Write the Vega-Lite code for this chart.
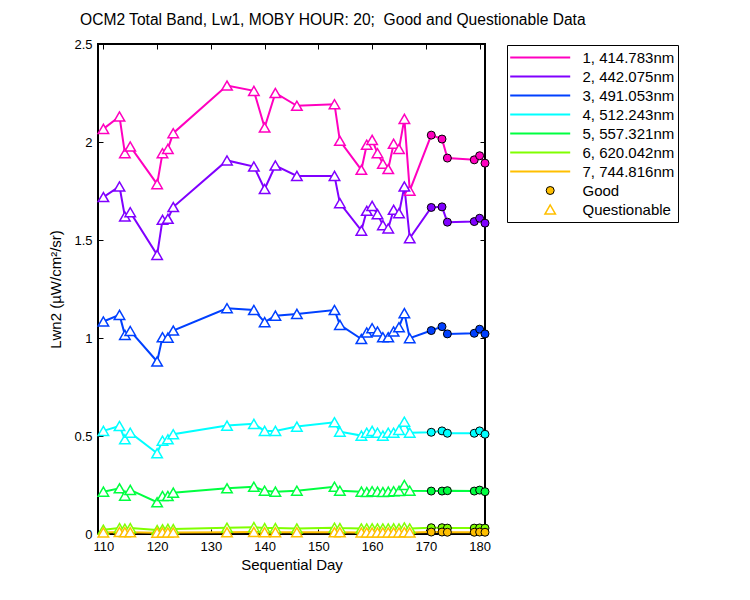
{
  "$schema": "https://vega.github.io/schema/vega-lite/v6.json",
  "width": 387,
  "height": 490,
  "autosize": "none",
  "padding": {"left": 98, "top": 44, "right": 265, "bottom": 66},
  "background": "white",
  "config": {
    "view": {"stroke": "black", "strokeWidth": 2},
    "font": "Liberation Sans",
    "axis": {"labelColor": "black", "titleColor": "black", "tickColor": "black", "tickWidth": 1, "grid": false, "domain": false, "labelFont": "Liberation Sans", "titleFont": "Liberation Sans", "titleFontWeight": "normal"}
  },
  "title": {"text": "OCM2 Total Band, Lw1, MOBY HOUR: 20;\u00a0 Good and Questionable Data", "anchor": "start", "frame": "group", "dx": -18, "offset": 9, "fontSize": 15.6, "fontWeight": "normal", "font": "Liberation Sans", "color": "black"},
  "data": {"values": [
    {"day":110,"band":"1, 414.783nm","lwn":2.067,"q":"Questionable"},
    {"day":113,"band":"1, 414.783nm","lwn":2.13,"q":"Questionable"},
    {"day":114,"band":"1, 414.783nm","lwn":1.943,"q":"Questionable"},
    {"day":115,"band":"1, 414.783nm","lwn":1.977,"q":"Questionable"},
    {"day":120,"band":"1, 414.783nm","lwn":1.785,"q":"Questionable"},
    {"day":121,"band":"1, 414.783nm","lwn":1.943,"q":"Questionable"},
    {"day":122,"band":"1, 414.783nm","lwn":1.965,"q":"Questionable"},
    {"day":123,"band":"1, 414.783nm","lwn":2.045,"q":"Questionable"},
    {"day":133,"band":"1, 414.783nm","lwn":2.288,"q":"Questionable"},
    {"day":138,"band":"1, 414.783nm","lwn":2.261,"q":"Questionable"},
    {"day":140,"band":"1, 414.783nm","lwn":2.074,"q":"Questionable"},
    {"day":142,"band":"1, 414.783nm","lwn":2.25,"q":"Questionable"},
    {"day":146,"band":"1, 414.783nm","lwn":2.185,"q":"Questionable"},
    {"day":153,"band":"1, 414.783nm","lwn":2.193,"q":"Questionable"},
    {"day":154,"band":"1, 414.783nm","lwn":2.006,"q":"Questionable"},
    {"day":158,"band":"1, 414.783nm","lwn":1.858,"q":"Questionable"},
    {"day":159,"band":"1, 414.783nm","lwn":1.986,"q":"Questionable"},
    {"day":160,"band":"1, 414.783nm","lwn":2.011,"q":"Questionable"},
    {"day":161,"band":"1, 414.783nm","lwn":1.943,"q":"Questionable"},
    {"day":162,"band":"1, 414.783nm","lwn":1.889,"q":"Questionable"},
    {"day":163,"band":"1, 414.783nm","lwn":1.862,"q":"Questionable"},
    {"day":164,"band":"1, 414.783nm","lwn":1.991,"q":"Questionable"},
    {"day":165,"band":"1, 414.783nm","lwn":1.965,"q":"Questionable"},
    {"day":166,"band":"1, 414.783nm","lwn":2.118,"q":"Questionable"},
    {"day":167,"band":"1, 414.783nm","lwn":1.752,"q":"Questionable"},
    {"day":171,"band":"1, 414.783nm","lwn":2.035,"q":"Good"},
    {"day":173,"band":"1, 414.783nm","lwn":2.015,"q":"Good"},
    {"day":174,"band":"1, 414.783nm","lwn":1.918,"q":"Good"},
    {"day":179,"band":"1, 414.783nm","lwn":1.909,"q":"Good"},
    {"day":180,"band":"1, 414.783nm","lwn":1.93,"q":"Good"},
    {"day":181,"band":"1, 414.783nm","lwn":1.892,"q":"Good"},
    {"day":110,"band":"2, 442.075nm","lwn":1.719,"q":"Questionable"},
    {"day":113,"band":"2, 442.075nm","lwn":1.773,"q":"Questionable"},
    {"day":114,"band":"2, 442.075nm","lwn":1.62,"q":"Questionable"},
    {"day":115,"band":"2, 442.075nm","lwn":1.642,"q":"Questionable"},
    {"day":120,"band":"2, 442.075nm","lwn":1.424,"q":"Questionable"},
    {"day":121,"band":"2, 442.075nm","lwn":1.603,"q":"Questionable"},
    {"day":122,"band":"2, 442.075nm","lwn":1.608,"q":"Questionable"},
    {"day":123,"band":"2, 442.075nm","lwn":1.668,"q":"Questionable"},
    {"day":133,"band":"2, 442.075nm","lwn":1.906,"q":"Questionable"},
    {"day":138,"band":"2, 442.075nm","lwn":1.875,"q":"Questionable"},
    {"day":140,"band":"2, 442.075nm","lwn":1.76,"q":"Questionable"},
    {"day":142,"band":"2, 442.075nm","lwn":1.88,"q":"Questionable"},
    {"day":146,"band":"2, 442.075nm","lwn":1.827,"q":"Questionable"},
    {"day":153,"band":"2, 442.075nm","lwn":1.827,"q":"Questionable"},
    {"day":154,"band":"2, 442.075nm","lwn":1.688,"q":"Questionable"},
    {"day":158,"band":"2, 442.075nm","lwn":1.548,"q":"Questionable"},
    {"day":159,"band":"2, 442.075nm","lwn":1.649,"q":"Questionable"},
    {"day":160,"band":"2, 442.075nm","lwn":1.674,"q":"Questionable"},
    {"day":161,"band":"2, 442.075nm","lwn":1.632,"q":"Questionable"},
    {"day":162,"band":"2, 442.075nm","lwn":1.576,"q":"Questionable"},
    {"day":163,"band":"2, 442.075nm","lwn":1.559,"q":"Questionable"},
    {"day":164,"band":"2, 442.075nm","lwn":1.654,"q":"Questionable"},
    {"day":165,"band":"2, 442.075nm","lwn":1.637,"q":"Questionable"},
    {"day":166,"band":"2, 442.075nm","lwn":1.773,"q":"Questionable"},
    {"day":167,"band":"2, 442.075nm","lwn":1.509,"q":"Questionable"},
    {"day":171,"band":"2, 442.075nm","lwn":1.666,"q":"Good"},
    {"day":173,"band":"2, 442.075nm","lwn":1.669,"q":"Good"},
    {"day":174,"band":"2, 442.075nm","lwn":1.591,"q":"Good"},
    {"day":179,"band":"2, 442.075nm","lwn":1.594,"q":"Good"},
    {"day":180,"band":"2, 442.075nm","lwn":1.611,"q":"Good"},
    {"day":181,"band":"2, 442.075nm","lwn":1.586,"q":"Good"},
    {"day":110,"band":"3, 491.053nm","lwn":1.084,"q":"Questionable"},
    {"day":113,"band":"3, 491.053nm","lwn":1.118,"q":"Questionable"},
    {"day":114,"band":"3, 491.053nm","lwn":1.016,"q":"Questionable"},
    {"day":115,"band":"3, 491.053nm","lwn":1.036,"q":"Questionable"},
    {"day":120,"band":"3, 491.053nm","lwn":0.88,"q":"Questionable"},
    {"day":121,"band":"3, 491.053nm","lwn":1.004,"q":"Questionable"},
    {"day":122,"band":"3, 491.053nm","lwn":1.002,"q":"Questionable"},
    {"day":123,"band":"3, 491.053nm","lwn":1.038,"q":"Questionable"},
    {"day":133,"band":"3, 491.053nm","lwn":1.152,"q":"Questionable"},
    {"day":138,"band":"3, 491.053nm","lwn":1.143,"q":"Questionable"},
    {"day":140,"band":"3, 491.053nm","lwn":1.081,"q":"Questionable"},
    {"day":142,"band":"3, 491.053nm","lwn":1.114,"q":"Questionable"},
    {"day":146,"band":"3, 491.053nm","lwn":1.123,"q":"Questionable"},
    {"day":153,"band":"3, 491.053nm","lwn":1.143,"q":"Questionable"},
    {"day":154,"band":"3, 491.053nm","lwn":1.067,"q":"Questionable"},
    {"day":158,"band":"3, 491.053nm","lwn":0.995,"q":"Questionable"},
    {"day":159,"band":"3, 491.053nm","lwn":1.028,"q":"Questionable"},
    {"day":160,"band":"3, 491.053nm","lwn":1.05,"q":"Questionable"},
    {"day":161,"band":"3, 491.053nm","lwn":1.033,"q":"Questionable"},
    {"day":162,"band":"3, 491.053nm","lwn":1.004,"q":"Questionable"},
    {"day":163,"band":"3, 491.053nm","lwn":1.004,"q":"Questionable"},
    {"day":164,"band":"3, 491.053nm","lwn":1.033,"q":"Questionable"},
    {"day":165,"band":"3, 491.053nm","lwn":1.055,"q":"Questionable"},
    {"day":166,"band":"3, 491.053nm","lwn":1.127,"q":"Questionable"},
    {"day":167,"band":"3, 491.053nm","lwn":0.999,"q":"Questionable"},
    {"day":171,"band":"3, 491.053nm","lwn":1.038,"q":"Good"},
    {"day":173,"band":"3, 491.053nm","lwn":1.058,"q":"Good"},
    {"day":174,"band":"3, 491.053nm","lwn":1.021,"q":"Good"},
    {"day":179,"band":"3, 491.053nm","lwn":1.024,"q":"Good"},
    {"day":180,"band":"3, 491.053nm","lwn":1.045,"q":"Good"},
    {"day":181,"band":"3, 491.053nm","lwn":1.021,"q":"Good"},
    {"day":110,"band":"4, 512.243nm","lwn":0.526,"q":"Questionable"},
    {"day":113,"band":"4, 512.243nm","lwn":0.551,"q":"Questionable"},
    {"day":114,"band":"4, 512.243nm","lwn":0.483,"q":"Questionable"},
    {"day":115,"band":"4, 512.243nm","lwn":0.517,"q":"Questionable"},
    {"day":120,"band":"4, 512.243nm","lwn":0.412,"q":"Questionable"},
    {"day":121,"band":"4, 512.243nm","lwn":0.476,"q":"Questionable"},
    {"day":122,"band":"4, 512.243nm","lwn":0.483,"q":"Questionable"},
    {"day":123,"band":"4, 512.243nm","lwn":0.509,"q":"Questionable"},
    {"day":133,"band":"4, 512.243nm","lwn":0.553,"q":"Questionable"},
    {"day":138,"band":"4, 512.243nm","lwn":0.562,"q":"Questionable"},
    {"day":140,"band":"4, 512.243nm","lwn":0.526,"q":"Questionable"},
    {"day":142,"band":"4, 512.243nm","lwn":0.526,"q":"Questionable"},
    {"day":146,"band":"4, 512.243nm","lwn":0.548,"q":"Questionable"},
    {"day":153,"band":"4, 512.243nm","lwn":0.57,"q":"Questionable"},
    {"day":154,"band":"4, 512.243nm","lwn":0.522,"q":"Questionable"},
    {"day":158,"band":"4, 512.243nm","lwn":0.502,"q":"Questionable"},
    {"day":159,"band":"4, 512.243nm","lwn":0.517,"q":"Questionable"},
    {"day":160,"band":"4, 512.243nm","lwn":0.526,"q":"Questionable"},
    {"day":161,"band":"4, 512.243nm","lwn":0.517,"q":"Questionable"},
    {"day":162,"band":"4, 512.243nm","lwn":0.502,"q":"Questionable"},
    {"day":163,"band":"4, 512.243nm","lwn":0.517,"q":"Questionable"},
    {"day":164,"band":"4, 512.243nm","lwn":0.517,"q":"Questionable"},
    {"day":165,"band":"4, 512.243nm","lwn":0.531,"q":"Questionable"},
    {"day":166,"band":"4, 512.243nm","lwn":0.573,"q":"Questionable"},
    {"day":167,"band":"4, 512.243nm","lwn":0.517,"q":"Questionable"},
    {"day":171,"band":"4, 512.243nm","lwn":0.519,"q":"Good"},
    {"day":173,"band":"4, 512.243nm","lwn":0.526,"q":"Good"},
    {"day":174,"band":"4, 512.243nm","lwn":0.514,"q":"Good"},
    {"day":179,"band":"4, 512.243nm","lwn":0.514,"q":"Good"},
    {"day":180,"band":"4, 512.243nm","lwn":0.526,"q":"Good"},
    {"day":181,"band":"4, 512.243nm","lwn":0.509,"q":"Good"},
    {"day":110,"band":"5, 557.321nm","lwn":0.216,"q":"Questionable"},
    {"day":113,"band":"5, 557.321nm","lwn":0.233,"q":"Questionable"},
    {"day":114,"band":"5, 557.321nm","lwn":0.196,"q":"Questionable"},
    {"day":115,"band":"5, 557.321nm","lwn":0.225,"q":"Questionable"},
    {"day":120,"band":"5, 557.321nm","lwn":0.162,"q":"Questionable"},
    {"day":121,"band":"5, 557.321nm","lwn":0.194,"q":"Questionable"},
    {"day":122,"band":"5, 557.321nm","lwn":0.194,"q":"Questionable"},
    {"day":123,"band":"5, 557.321nm","lwn":0.211,"q":"Questionable"},
    {"day":133,"band":"5, 557.321nm","lwn":0.233,"q":"Questionable"},
    {"day":138,"band":"5, 557.321nm","lwn":0.241,"q":"Questionable"},
    {"day":140,"band":"5, 557.321nm","lwn":0.221,"q":"Questionable"},
    {"day":142,"band":"5, 557.321nm","lwn":0.216,"q":"Questionable"},
    {"day":146,"band":"5, 557.321nm","lwn":0.221,"q":"Questionable"},
    {"day":153,"band":"5, 557.321nm","lwn":0.241,"q":"Questionable"},
    {"day":154,"band":"5, 557.321nm","lwn":0.221,"q":"Questionable"},
    {"day":158,"band":"5, 557.321nm","lwn":0.216,"q":"Questionable"},
    {"day":159,"band":"5, 557.321nm","lwn":0.214,"q":"Questionable"},
    {"day":160,"band":"5, 557.321nm","lwn":0.218,"q":"Questionable"},
    {"day":161,"band":"5, 557.321nm","lwn":0.216,"q":"Questionable"},
    {"day":162,"band":"5, 557.321nm","lwn":0.214,"q":"Questionable"},
    {"day":163,"band":"5, 557.321nm","lwn":0.216,"q":"Questionable"},
    {"day":164,"band":"5, 557.321nm","lwn":0.218,"q":"Questionable"},
    {"day":165,"band":"5, 557.321nm","lwn":0.22,"q":"Questionable"},
    {"day":166,"band":"5, 557.321nm","lwn":0.25,"q":"Questionable"},
    {"day":167,"band":"5, 557.321nm","lwn":0.221,"q":"Questionable"},
    {"day":171,"band":"5, 557.321nm","lwn":0.219,"q":"Good"},
    {"day":173,"band":"5, 557.321nm","lwn":0.219,"q":"Good"},
    {"day":174,"band":"5, 557.321nm","lwn":0.221,"q":"Good"},
    {"day":179,"band":"5, 557.321nm","lwn":0.219,"q":"Good"},
    {"day":180,"band":"5, 557.321nm","lwn":0.224,"q":"Good"},
    {"day":181,"band":"5, 557.321nm","lwn":0.216,"q":"Good"},
    {"day":110,"band":"6, 620.042nm","lwn":0.022,"q":"Questionable"},
    {"day":113,"band":"6, 620.042nm","lwn":0.03,"q":"Questionable"},
    {"day":114,"band":"6, 620.042nm","lwn":0.027,"q":"Questionable"},
    {"day":115,"band":"6, 620.042nm","lwn":0.03,"q":"Questionable"},
    {"day":120,"band":"6, 620.042nm","lwn":0.02,"q":"Questionable"},
    {"day":121,"band":"6, 620.042nm","lwn":0.024,"q":"Questionable"},
    {"day":122,"band":"6, 620.042nm","lwn":0.026,"q":"Questionable"},
    {"day":123,"band":"6, 620.042nm","lwn":0.025,"q":"Questionable"},
    {"day":133,"band":"6, 620.042nm","lwn":0.032,"q":"Questionable"},
    {"day":138,"band":"6, 620.042nm","lwn":0.035,"q":"Questionable"},
    {"day":140,"band":"6, 620.042nm","lwn":0.03,"q":"Questionable"},
    {"day":142,"band":"6, 620.042nm","lwn":0.03,"q":"Questionable"},
    {"day":146,"band":"6, 620.042nm","lwn":0.028,"q":"Questionable"},
    {"day":153,"band":"6, 620.042nm","lwn":0.032,"q":"Questionable"},
    {"day":154,"band":"6, 620.042nm","lwn":0.03,"q":"Questionable"},
    {"day":158,"band":"6, 620.042nm","lwn":0.028,"q":"Questionable"},
    {"day":159,"band":"6, 620.042nm","lwn":0.028,"q":"Questionable"},
    {"day":160,"band":"6, 620.042nm","lwn":0.029,"q":"Questionable"},
    {"day":161,"band":"6, 620.042nm","lwn":0.028,"q":"Questionable"},
    {"day":162,"band":"6, 620.042nm","lwn":0.028,"q":"Questionable"},
    {"day":163,"band":"6, 620.042nm","lwn":0.028,"q":"Questionable"},
    {"day":164,"band":"6, 620.042nm","lwn":0.029,"q":"Questionable"},
    {"day":165,"band":"6, 620.042nm","lwn":0.028,"q":"Questionable"},
    {"day":166,"band":"6, 620.042nm","lwn":0.033,"q":"Questionable"},
    {"day":167,"band":"6, 620.042nm","lwn":0.028,"q":"Questionable"},
    {"day":171,"band":"6, 620.042nm","lwn":0.032,"q":"Good"},
    {"day":173,"band":"6, 620.042nm","lwn":0.032,"q":"Good"},
    {"day":174,"band":"6, 620.042nm","lwn":0.03,"q":"Good"},
    {"day":179,"band":"6, 620.042nm","lwn":0.03,"q":"Good"},
    {"day":180,"band":"6, 620.042nm","lwn":0.031,"q":"Good"},
    {"day":181,"band":"6, 620.042nm","lwn":0.03,"q":"Good"},
    {"day":110,"band":"7, 744.816nm","lwn":0.008,"q":"Questionable"},
    {"day":113,"band":"7, 744.816nm","lwn":0.01,"q":"Questionable"},
    {"day":114,"band":"7, 744.816nm","lwn":0.009,"q":"Questionable"},
    {"day":115,"band":"7, 744.816nm","lwn":0.009,"q":"Questionable"},
    {"day":120,"band":"7, 744.816nm","lwn":0.007,"q":"Questionable"},
    {"day":121,"band":"7, 744.816nm","lwn":0.008,"q":"Questionable"},
    {"day":122,"band":"7, 744.816nm","lwn":0.008,"q":"Questionable"},
    {"day":123,"band":"7, 744.816nm","lwn":0.008,"q":"Questionable"},
    {"day":133,"band":"7, 744.816nm","lwn":0.009,"q":"Questionable"},
    {"day":138,"band":"7, 744.816nm","lwn":0.01,"q":"Questionable"},
    {"day":140,"band":"7, 744.816nm","lwn":0.009,"q":"Questionable"},
    {"day":142,"band":"7, 744.816nm","lwn":0.009,"q":"Questionable"},
    {"day":146,"band":"7, 744.816nm","lwn":0.009,"q":"Questionable"},
    {"day":153,"band":"7, 744.816nm","lwn":0.009,"q":"Questionable"},
    {"day":154,"band":"7, 744.816nm","lwn":0.009,"q":"Questionable"},
    {"day":158,"band":"7, 744.816nm","lwn":0.008,"q":"Questionable"},
    {"day":159,"band":"7, 744.816nm","lwn":0.008,"q":"Questionable"},
    {"day":160,"band":"7, 744.816nm","lwn":0.008,"q":"Questionable"},
    {"day":161,"band":"7, 744.816nm","lwn":0.008,"q":"Questionable"},
    {"day":162,"band":"7, 744.816nm","lwn":0.008,"q":"Questionable"},
    {"day":163,"band":"7, 744.816nm","lwn":0.008,"q":"Questionable"},
    {"day":164,"band":"7, 744.816nm","lwn":0.008,"q":"Questionable"},
    {"day":165,"band":"7, 744.816nm","lwn":0.008,"q":"Questionable"},
    {"day":166,"band":"7, 744.816nm","lwn":0.009,"q":"Questionable"},
    {"day":167,"band":"7, 744.816nm","lwn":0.008,"q":"Questionable"},
    {"day":171,"band":"7, 744.816nm","lwn":0.01,"q":"Good"},
    {"day":173,"band":"7, 744.816nm","lwn":0.01,"q":"Good"},
    {"day":174,"band":"7, 744.816nm","lwn":0.009,"q":"Good"},
    {"day":179,"band":"7, 744.816nm","lwn":0.009,"q":"Good"},
    {"day":180,"band":"7, 744.816nm","lwn":0.01,"q":"Good"},
    {"day":181,"band":"7, 744.816nm","lwn":0.009,"q":"Good"}
  ]},
  "layer": [
    {
      "mark": {"type": "line", "strokeWidth": 2, "clip": false},
      "encoding": {
        "x": {"field": "day", "type": "quantitative", "scale": {"domain": [109, 181], "nice": false, "zero": false},
              "axis": {"orient": "top", "labels": false, "title": null, "tickSize": -5, "values": [110, 120, 130, 140, 150, 160, 170, 180]}},
        "y": {"field": "lwn", "type": "quantitative", "scale": {"domain": [0, 2.5], "nice": false, "zero": false},
              "axis": {"orient": "right", "labels": false, "title": null, "tickSize": -5, "values": [0, 0.5, 1, 1.5, 2, 2.5]}},
        "color": {"field": "band", "type": "nominal",
          "scale": {"domain": ["1, 414.783nm", "2, 442.075nm", "3, 491.053nm", "4, 512.243nm", "5, 557.321nm", "6, 620.042nm", "7, 744.816nm", "Good", "Questionable"],
                    "range": ["#FF00BF", "#8000FF", "#0040FF", "#00FFFF", "#00FF40", "#80FF00", "#FFBF00", "#000000", "#FFBF00"]},
          "legend": {
            "orient": "none", "legendX": 409, "legendY": 1, "title": null,
            "strokeColor": "black", "fillColor": "white", "padding": 3,
            "symbolType": {"expr": "datum.value === 'Good' ? 'circle' : datum.value === 'Questionable' ? 'triangle-up' : 'stroke'"},
            "symbolSize": {"expr": "datum.value === 'Good' ? 64 : datum.value === 'Questionable' ? 110 : 3600"},
            "symbolFillColor": {"expr": "datum.value === 'Good' ? '#FFBF00' : datum.value === 'Questionable' ? 'white' : 'transparent'"},
            "symbolStrokeColor": {"expr": "datum.value === 'Good' ? 'black' : scale('color', datum.value)"},
            "symbolStrokeWidth": {"expr": "datum.value === 'Good' ? 1 : datum.value === 'Questionable' ? 1.5 : 2"},
            "symbolOffset": {"expr": "datum.value === 'Good' || datum.value === 'Questionable' ? 32.7 : 22.7"},
            "labelOffset": {"expr": "datum.value === 'Good' || datum.value === 'Questionable' ? 24.8 : 34.8"},
            "clipHeight": 19, "rowPadding": 0,
            "labelFont": "Liberation Sans", "labelFontSize": 15, "labelColor": "black", "labelLimit": 0
          }
        }
      }
    },
    {
      "transform": [{"filter": "datum.q === 'Questionable'"}],
      "mark": {"type": "point", "shape": "triangle-up", "filled": false, "fill": "white", "size": 110, "strokeWidth": 1.5, "opacity": 1, "clip": false},
      "encoding": {
        "x": {"field": "day", "type": "quantitative", "scale": {"domain": [109, 181], "nice": false, "zero": false},
              "axis": {"orient": "bottom", "title": "Sequential Day", "titleFontSize": 15, "titlePadding": 4, "labelFontSize": 13, "tickSize": -5, "labelPadding": 11, "values": [110, 120, 130, 140, 150, 160, 170, 180]}},
        "y": {"field": "lwn", "type": "quantitative", "scale": {"domain": [0, 2.5], "nice": false, "zero": false},
              "axis": {"orient": "left", "title": "Lwn2 (µW/cm²/sr)", "titleFontSize": 15, "titlePadding": 10, "labelFontSize": 13, "tickSize": -5, "labelPadding": 11, "labelExpr": "'' + datum.value", "values": [0, 0.5, 1, 1.5, 2, 2.5]}},
        "stroke": {"field": "band", "type": "nominal",
          "scale": {"domain": ["1, 414.783nm", "2, 442.075nm", "3, 491.053nm", "4, 512.243nm", "5, 557.321nm", "6, 620.042nm", "7, 744.816nm"],
                    "range": ["#FF00BF", "#8000FF", "#0040FF", "#00FFFF", "#00FF40", "#80FF00", "#FFBF00"]},
          "legend": null}
      }
    },
    {
      "transform": [{"filter": "datum.q === 'Good'"}],
      "mark": {"type": "point", "shape": "circle", "filled": true, "size": 64, "stroke": "black", "strokeWidth": 1, "opacity": 1, "clip": false},
      "encoding": {
        "x": {"field": "day", "type": "quantitative", "scale": {"domain": [109, 181], "nice": false, "zero": false}, "axis": null},
        "y": {"field": "lwn", "type": "quantitative", "scale": {"domain": [0, 2.5], "nice": false, "zero": false}, "axis": null},
        "fill": {"field": "band", "type": "nominal",
          "scale": {"domain": ["1, 414.783nm", "2, 442.075nm", "3, 491.053nm", "4, 512.243nm", "5, 557.321nm", "6, 620.042nm", "7, 744.816nm"],
                    "range": ["#FF00BF", "#8000FF", "#0040FF", "#00FFFF", "#00FF40", "#80FF00", "#FFBF00"]},
          "legend": null}
      }
    }
  ]
}
